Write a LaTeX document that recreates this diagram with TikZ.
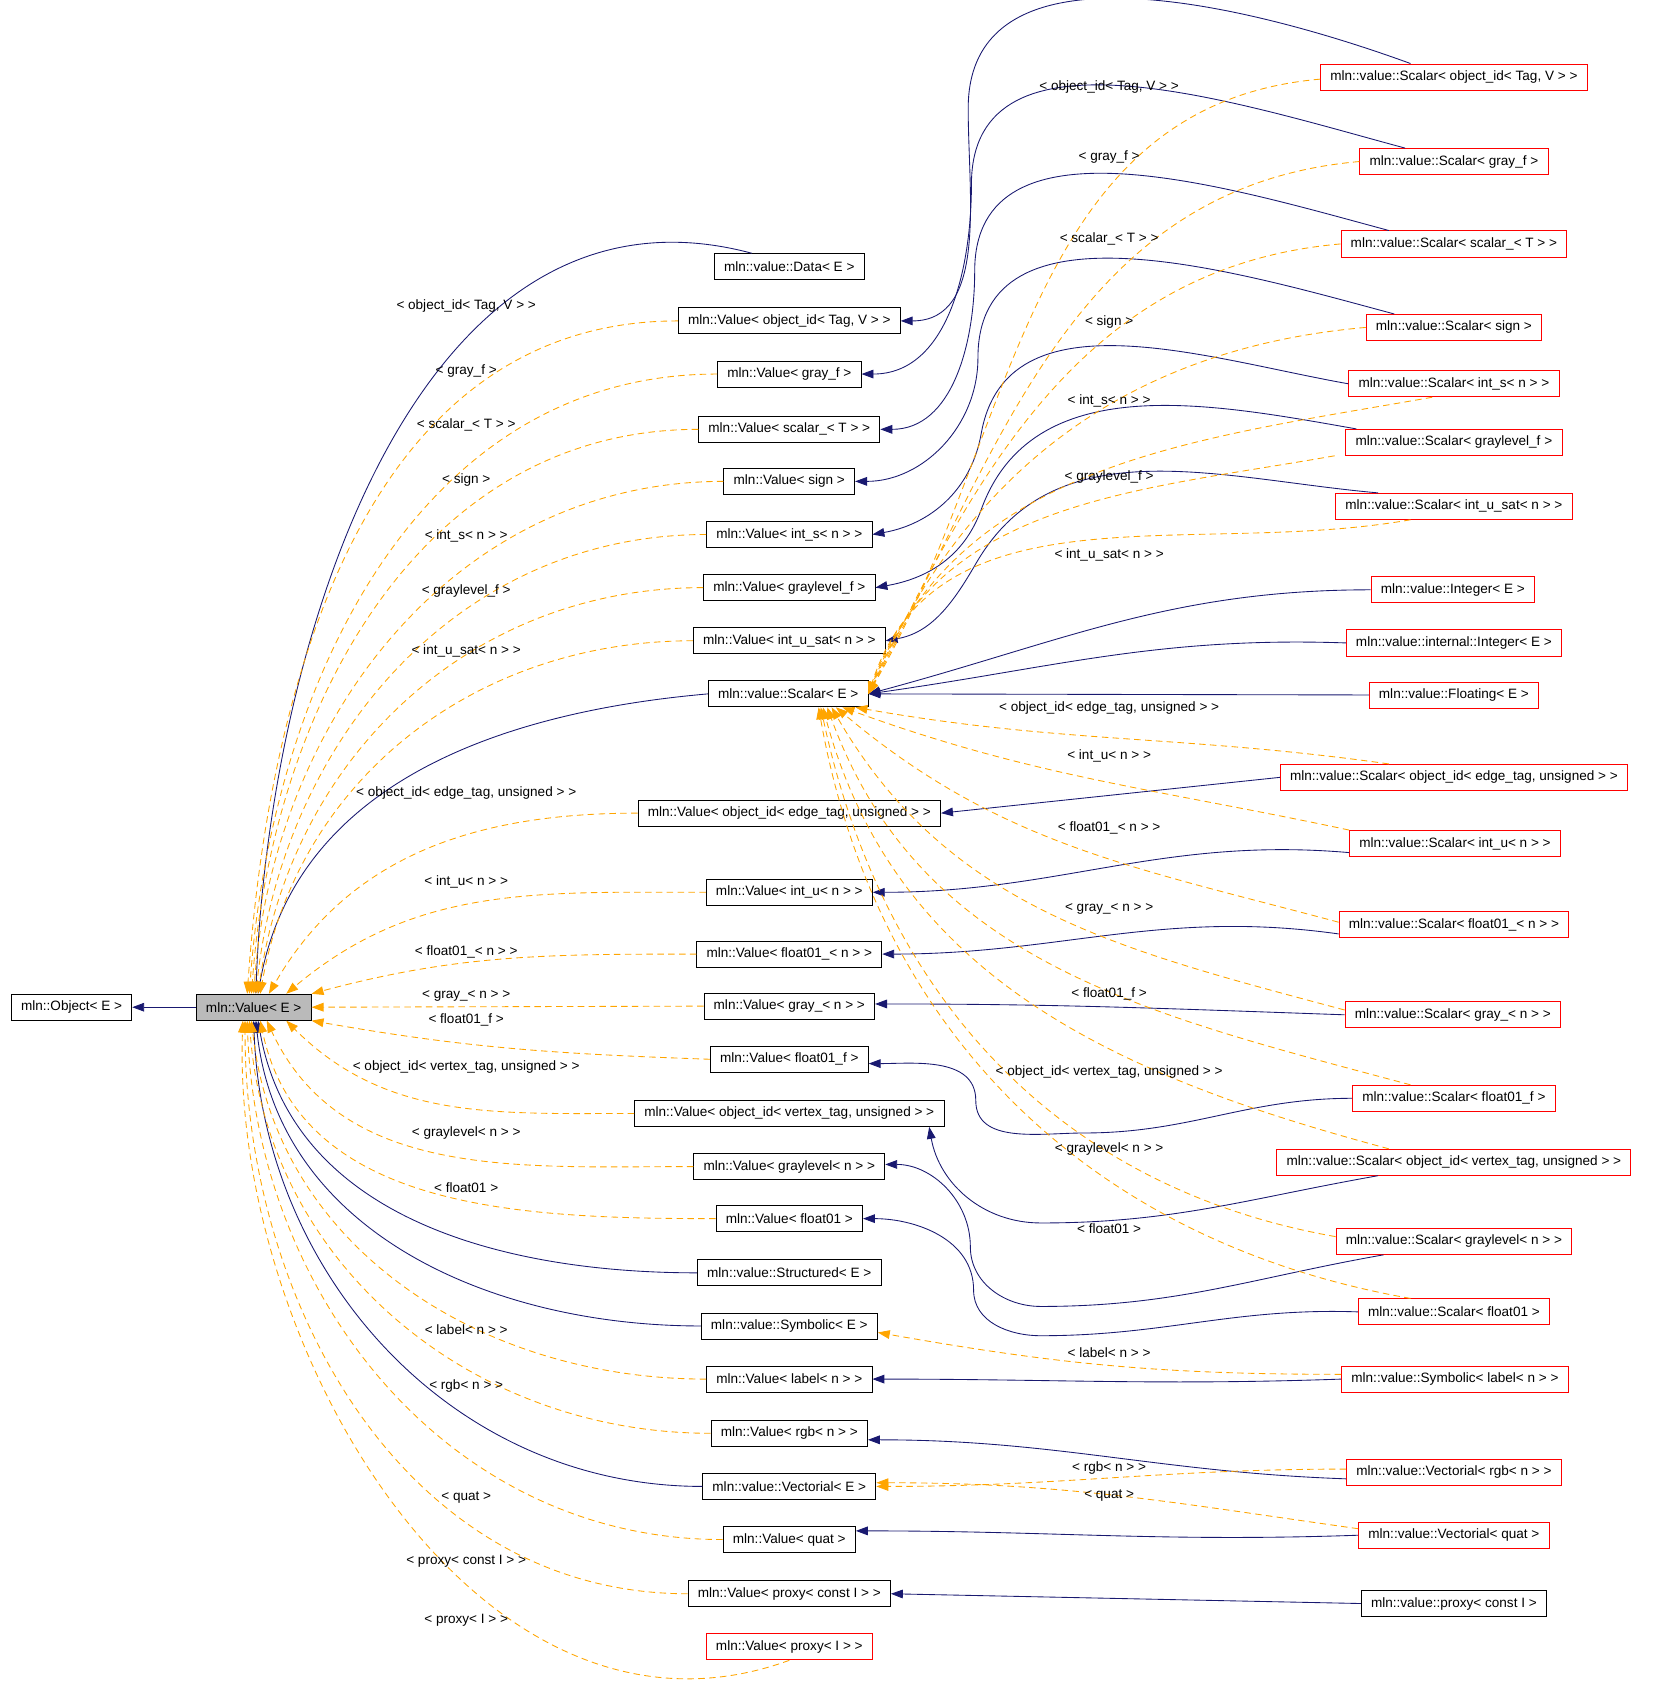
\documentclass[tikz,border=0pt]{standalone}
\usepackage{fontspec}
\setmainfont{Liberation Sans}
\usetikzlibrary{arrows.meta}
\definecolor{navy}{RGB}{25,25,112}
\definecolor{tplorange}{RGB}{255,165,0}
\begin{document}
\begin{tikzpicture}[x=1pt,y=-1pt,
    font=\fontsize{12.5}{14}\selectfont,
    cls/.style={draw=black, thick, minimum height=24pt, inner xsep=9pt, inner ysep=0pt, fill=white},
    ext/.style={cls, draw=red},
    base/.style={cls, fill=black!27},
    inh/.style={draw=navy, thick, -{Triangle[length=11pt,width=8pt]}},
    tpl/.style={draw=tplorange, thick, dashed, dash pattern=on 6pt off 4pt, -{Triangle[length=11pt,width=8pt]}},
    lbl/.style={inner sep=1pt}]
    \useasboundingbox (0,0) rectangle (1527,1568);

    % left part
    \node[cls] (obj) at (66,929) {mln::Object< E >};
    \node[base] (val) at (234,929) {mln::Value< E >};

    % middle column
    \node[cls] (data) at (728,246) {mln::value::Data< E >};
    \node[cls] (vObjTag) at (728,296) {mln::Value< object\_id< Tag, V > >};
    \node[cls] (vGrayF) at (728,345) {mln::Value< gray\_f >};
    \node[cls] (vScalarT) at (728,396) {mln::Value< scalar\_< T > >};
    \node[cls] (vSign) at (728,444) {mln::Value< sign >};
    \node[cls] (vIntS) at (728,493) {mln::Value< int\_s< n > >};
    \node[cls] (vGraylevelF) at (728,542) {mln::Value< graylevel\_f >};
    \node[cls] (vIntUSat) at (728,591) {mln::Value< int\_u\_sat< n > >};
    \node[cls] (scalarE) at (727,640) {mln::value::Scalar< E >};
    \node[cls] (vObjEdge) at (728,750) {mln::Value< object\_id< edge\_tag, unsigned > >};
    \node[cls] (vIntU) at (728,823) {mln::Value< int\_u< n > >};
    \node[cls] (vFloat01n) at (728,880) {mln::Value< float01\_< n > >};
    \node[cls] (vGrayn) at (728,928) {mln::Value< gray\_< n > >};
    \node[cls] (vFloat01f) at (728,977) {mln::Value< float01\_f >};
    \node[cls] (vObjVertex) at (728,1027) {mln::Value< object\_id< vertex\_tag, unsigned > >};
    \node[cls] (vGraylevelN) at (728,1076) {mln::Value< graylevel< n > >};
    \node[cls] (vFloat01) at (728,1124) {mln::Value< float01 >};
    \node[cls] (structured) at (728,1174) {mln::value::Structured< E >};
    \node[cls] (symbolic) at (728,1223) {mln::value::Symbolic< E >};
    \node[cls] (vLabel) at (728,1272) {mln::Value< label< n > >};
    \node[cls] (vRgb) at (728,1322) {mln::Value< rgb< n > >};
    \node[cls] (vectorial) at (728,1371) {mln::value::Vectorial< E >};
    \node[cls] (vQuat) at (728,1420) {mln::Value< quat >};
    \node[cls] (vProxyC) at (728,1470) {mln::Value< proxy< const I > >};
    \node[ext] (vProxy) at (728,1519) {mln::Value< proxy< I > >};

    % right column
    \node[ext] (sObjTag) at (1341,71) {mln::value::Scalar< object\_id< Tag, V > >};
    \node[ext] (sGrayF) at (1341,149) {mln::value::Scalar< gray\_f >};
    \node[ext] (sScalarT) at (1341,225) {mln::value::Scalar< scalar\_< T > >};
    \node[ext] (sSign) at (1341,302) {mln::value::Scalar< sign >};
    \node[ext] (sIntS) at (1341,354) {mln::value::Scalar< int\_s< n > >};
    \node[ext] (sGraylevelF) at (1341,408) {mln::value::Scalar< graylevel\_f >};
    \node[ext] (sIntUSat) at (1341,467) {mln::value::Scalar< int\_u\_sat< n > >};
    \node[ext] (integer) at (1340,544) {mln::value::Integer< E >};
    \node[ext] (intInteger) at (1341,593) {mln::value::internal::Integer< E >};
    \node[ext] (floating) at (1341,641) {mln::value::Floating< E >};
    \node[ext] (sObjEdge) at (1341,717) {mln::value::Scalar< object\_id< edge\_tag, unsigned > >};
    \node[ext] (sIntU) at (1342,778) {mln::value::Scalar< int\_u< n > >};
    \node[ext] (sFloat01n) at (1341,853) {mln::value::Scalar< float01\_< n > >};
    \node[ext] (sGrayn) at (1340,936) {mln::value::Scalar< gray\_< n > >};
    \node[ext] (sFloat01f) at (1341,1013) {mln::value::Scalar< float01\_f >};
    \node[ext] (sObjVertex) at (1341,1072) {mln::value::Scalar< object\_id< vertex\_tag, unsigned > >};
    \node[ext] (sGraylevelN) at (1341,1145) {mln::value::Scalar< graylevel< n > >};
    \node[ext] (sFloat01) at (1341,1210) {mln::value::Scalar< float01 >};
    \node[ext] (symLabel) at (1342,1272) {mln::value::Symbolic< label< n > >};
    \node[ext] (vecRgb) at (1341,1358) {mln::value::Vectorial< rgb< n > >};
    \node[ext] (vecQuat) at (1341,1416) {mln::value::Vectorial< quat >};
    \node[cls] (proxyC) at (1341,1479) {mln::value::proxy< const I >};

    \draw[inh] (val) -- (obj);

    % navy edges into Value< E >
    \draw[inh] (data.north west) ++(35,0) to[out=165,in=88] ([xshift=2pt]val.north);
    \draw[inh] (scalarE.west) to[out=185,in=80] ([xshift=4pt]val.north);
    \draw[inh] (structured.west) to[out=180,in=-80] ([xshift=4pt]val.south);
    \draw[inh] (symbolic.west) to[out=180,in=-84] ([xshift=2pt]val.south);
    \draw[inh] (vectorial.west) to[out=180,in=-88] (val.south);

    % orange edges into Value< E >
    \draw[tpl] (vObjTag.west) to[out=180,in=86] ([xshift=-6pt]val.north);
    \draw[tpl] (vGrayF.west) to[out=180,in=86] ([xshift=-4pt]val.north);
    \draw[tpl] (vScalarT.west) to[out=180,in=86] ([xshift=-2pt]val.north);
    \draw[tpl] (vSign.west) to[out=180,in=86] (val.north);
    \draw[tpl] (vIntS.west) to[out=180,in=84] ([xshift=2pt]val.north);
    \draw[tpl] (vGraylevelF.west) to[out=180,in=82] ([xshift=4pt]val.north);
    \draw[tpl] (vIntUSat.west) to[out=180,in=80] ([xshift=6pt]val.north);
    \draw[tpl] (vObjEdge.west) to[out=180,in=60] ([xshift=14pt]val.north);
    \draw[tpl] (vIntU.west) to[out=180,in=40] ([xshift=30pt]val.north);
    \draw[tpl] (vFloat01n.west) to[out=180,in=15] (val.north east);
    \draw[tpl] (vGrayn.west) -- (val.east);
    \draw[tpl] (vFloat01f.west) to[out=178,in=-10] (val.south east);
    \draw[tpl] (vObjVertex.west) to[out=180,in=-45] ([xshift=30pt]val.south);
    \draw[tpl] (vGraylevelN.west) to[out=180,in=-65] ([xshift=12pt]val.south);
    \draw[tpl] (vFloat01.west) to[out=180,in=-78] ([xshift=6pt]val.south);
    \draw[tpl] (vLabel.west) to[out=180,in=-84] ([xshift=-2pt]val.south);
    \draw[tpl] (vRgb.west) to[out=180,in=-86] ([xshift=-4pt]val.south);
    \draw[tpl] (vQuat.west) to[out=180,in=-88] ([xshift=-6pt]val.south);
    \draw[tpl] (vProxyC.west) to[out=180,in=-90] ([xshift=-8pt]val.south);
    \draw[tpl] (vProxy.south) to[out=200,in=-92] ([xshift=-10pt]val.south);

    % labels left
    \node[lbl] at (430,282) {< object\_id< Tag, V > >};
    \node[lbl] at (430,342) {< gray\_f >};
    \node[lbl] at (430,392) {< scalar\_< T > >};
    \node[lbl] at (430,443) {< sign >};
    \node[lbl] at (430,494) {< int\_s< n > >};
    \node[lbl] at (430,545) {< graylevel\_f >};
    \node[lbl] at (430,600) {< int\_u\_sat< n > >};
    \node[lbl] at (430,731) {< object\_id< edge\_tag, unsigned > >};
    \node[lbl] at (430,813) {< int\_u< n > >};
    \node[lbl] at (430,878) {< float01\_< n > >};
    \node[lbl] at (430,919) {< gray\_< n > >};
    \node[lbl] at (430,941) {< float01\_f >};
    \node[lbl] at (430,984) {< object\_id< vertex\_tag, unsigned > >};
    \node[lbl] at (430,1045) {< graylevel< n > >};
    \node[lbl] at (430,1095) {< float01 >};
    \node[lbl] at (430,1226) {< label< n > >};
    \node[lbl] at (430,1278) {< rgb< n > >};
    \node[lbl] at (430,1381) {< quat >};
    \node[lbl] at (430,1440) {< proxy< const I > >};
    \node[lbl] at (430,1494) {< proxy< I > >};

    % navy edges right -> middle
    \draw[inh] ([xshift=-40pt]sObjTag.north) to[out=160,in=90] (893,100) to[out=-90,in=0] (vObjTag.east);
    \draw[inh] ([xshift=-45pt]sGrayF.north) to[out=165,in=90] (896,170) to[out=-90,in=0] (vGrayF.east);
    \draw[inh] ([xshift=-60pt]sScalarT.north) to[out=165,in=90] (899,250) to[out=-90,in=0] (vScalarT.east);
    \draw[inh] ([xshift=-55pt]sSign.north) to[out=165,in=90] (902,330) to[out=-90,in=0] (vSign.east);
    \draw[inh] (sIntS.west) to[out=170,in=80] (905,400) to[out=-100,in=10] (vIntS.east);
    \draw[inh] ([xshift=-90pt]sGraylevelF.north) to[out=170,in=70] (905,470) to[out=-110,in=10] (vGraylevelF.east);
    \draw[inh] ([xshift=-70pt]sIntUSat.north) to[out=175,in=60] (900,520) to[out=-120,in=10] (vIntUSat.east);
    \draw[inh] (integer.west) to[out=180,in=15] (scalarE.east);
    \draw[inh] (intInteger.west) to[out=178,in=8] (scalarE.east);
    \draw[inh] (floating.west) -- (scalarE.east);
    \draw[inh] (sObjEdge.west) -- (vObjEdge.east);
    \draw[inh] ([yshift=4pt]sIntU.south west) to[out=175,in=0] (vIntU.east);
    \draw[inh] ([yshift=4pt]sFloat01n.south west) to[out=172,in=0] (vFloat01n.east);
    \draw[inh] (sGrayn.west) to[out=178,in=0] ([yshift=2pt]vGrayn.east);
    \draw[inh] (sFloat01f.west) to[out=180,in=0] (1000,1045) to[out=180,in=-90] (900,1015) to[out=90,in=0] ([yshift=-4pt]vFloat01f.east);
    \draw[inh] ([xshift=-70pt]sObjVertex.south) to[out=190,in=0] (960,1128) to[out=180,in=-80] ([xshift=-14pt]vObjVertex.south east);
    \draw[inh] ([xshift=-65pt]sGraylevelN.south) to[out=190,in=0] (960,1205) to[out=180,in=-90] (895,1150) to[out=90,in=0] ([yshift=2pt]vGraylevelN.east);
    \draw[inh] (sFloat01.west) to[out=178,in=0] (960,1232) to[out=180,in=-90] (898,1190) to[out=90,in=0] (vFloat01.east);
    \draw[inh] (symLabel.west) to[out=182,in=0] (vLabel.east);
    \draw[inh] ([yshift=-6pt]vecRgb.west) to[out=178,in=0] ([yshift=-6pt]vRgb.east);
    \draw[inh] (vecQuat.west) to[out=182,in=0] ([yshift=8pt]vQuat.east);
    \draw[inh] (proxyC.west) -- (vProxyC.east);

    % orange edges into Scalar< E >
    \draw[tpl] ([yshift=-2pt]sObjTag.west) to[out=185,in=60] (scalarE.east);
    \draw[tpl] (sGrayF.west) to[out=185,in=62] (scalarE.east);
    \draw[tpl] (sScalarT.west) to[out=185,in=64] (scalarE.east);
    \draw[tpl] (sSign.west) to[out=185,in=66] (scalarE.east);
    \draw[tpl] ([xshift=-20pt]sIntS.south) to[out=190,in=68] (scalarE.east);
    \draw[tpl] ([xshift=-110pt]sGraylevelF.south) to[out=190,in=70] (scalarE.east);
    \draw[tpl] ([xshift=-40pt]sIntUSat.south) to[out=190,in=72] (scalarE.east);
    \draw[tpl] ([xshift=-60pt]sObjEdge.north) to[out=172,in=-10] ([xshift=-12pt]scalarE.south east);
    \draw[tpl] (sIntU.north west) to[out=168,in=-20] ([xshift=-24pt]scalarE.south east);
    \draw[tpl] ([yshift=-10pt]sFloat01n.north west) to[out=165,in=-40] ([xshift=-30pt]scalarE.south east);
    \draw[tpl] ([yshift=-8pt]sGrayn.north west) to[out=165,in=-60] ([xshift=-34pt]scalarE.south east);
    \draw[tpl] ([xshift=-40pt]sFloat01f.north) to[out=165,in=-70] ([xshift=-38pt]scalarE.south east);
    \draw[tpl] ([xshift=-60pt]sObjVertex.north) to[out=165,in=-75] ([xshift=-42pt]scalarE.south east);
    \draw[tpl] ([yshift=-8pt]sGraylevelN.north west) to[out=170,in=-78] ([xshift=-44pt]scalarE.south east);
    \draw[tpl] ([xshift=-40pt]sFloat01.north) to[out=170,in=-80] ([xshift=-46pt]scalarE.south east);

    \draw[tpl] ([yshift=-8pt]symLabel.north west) to[out=180,in=-10] ([yshift=-6pt]symbolic.east);
    \draw[tpl] ([yshift=3pt]vecRgb.west) to[out=180,in=0] (vectorial.east);
    \draw[tpl] ([yshift=6pt]vecQuat.west) to[out=172,in=0] ([yshift=-9pt]vectorial.north east);

    % labels middle
    \node[lbl] at (1023,80) {< object\_id< Tag, V > >};
    \node[lbl] at (1023,145) {< gray\_f >};
    \node[lbl] at (1023,220) {< scalar\_< T > >};
    \node[lbl] at (1023,297) {< sign >};
    \node[lbl] at (1023,370) {< int\_s< n > >};
    \node[lbl] at (1023,440) {< graylevel\_f >};
    \node[lbl] at (1023,512) {< int\_u\_sat< n > >};
    \node[lbl] at (1023,653) {< object\_id< edge\_tag, unsigned > >};
    \node[lbl] at (1023,697) {< int\_u< n > >};
    \node[lbl] at (1023,764) {< float01\_< n > >};
    \node[lbl] at (1023,838) {< gray\_< n > >};
    \node[lbl] at (1023,917) {< float01\_f >};
    \node[lbl] at (1023,989) {< object\_id< vertex\_tag, unsigned > >};
    \node[lbl] at (1023,1060) {< graylevel< n > >};
    \node[lbl] at (1023,1133) {< float01 >};
    \node[lbl] at (1023,1248) {< label< n > >};
    \node[lbl] at (1023,1354) {< rgb< n > >};
    \node[lbl] at (1023,1379) {< quat >};
\end{tikzpicture}
\end{document}
